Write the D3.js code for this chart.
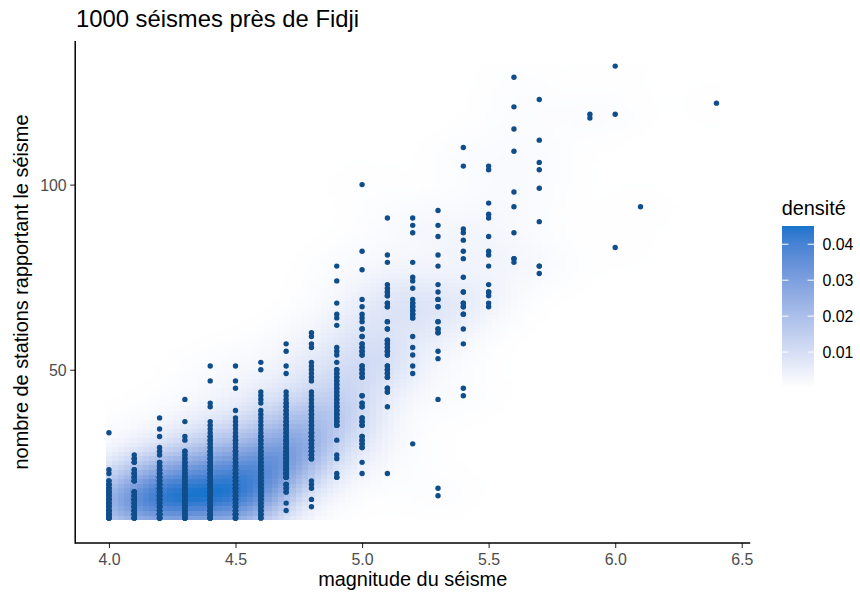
<!DOCTYPE html>
<html>
<head>
<meta charset="utf-8">
<script src="https://cdn.jsdelivr.net/npm/d3@7"></script>
<style>
  body { margin: 0; background: #ffffff; }
  svg { display: block; }
  text { font-family: "Liberation Sans", Arial, Helvetica, sans-serif; }
</style>
</head>
<body>
<svg id="chart" width="860" height="594"></svg>
<script>
// Magnitudes present in the catalogue
const magnitudes = [4.0, 4.1, 4.2, 4.3, 4.4, 4.5, 4.6, 4.7, 4.8, 4.9, 5.0,
                    5.1, 5.2, 5.3, 5.4, 5.5, 5.6, 5.7, 5.9, 6.0, 6.1, 6.4];

// Distinct numbers of reporting stations observed for each magnitude
const stationsByMag = [
  [10,11,12,13,14,15,16,17,18,19,20,22,23,33],
  [10,11,12,13,14,15,16,17,20,21,22,23,25,26,27],
  [10,11,12,13,14,15,16,17,18,19,20,21,22,23,24,25,27,28,29,32,34,37],
  [10,11,12,13,14,15,16,17,18,19,20,21,22,23,24,25,26,27,28,31,32,36,42],
  [10,11,12,13,14,15,16,17,18,19,20,21,22,23,24,25,26,27,28,29,30,31,32,33,34,35,36,40,41,47,51],
  [10,11,12,13,14,15,16,17,18,19,20,21,22,23,24,25,26,27,28,29,30,31,32,33,34,35,36,37,39,45,47,51],
  [10,11,12,13,14,15,16,17,18,19,20,21,22,23,24,25,26,27,28,29,30,31,32,33,34,35,36,37,38,39,41,42,43,44,50,52],
  [12,14,17,18,19,21,22,23,24,25,26,27,28,29,30,31,32,33,34,35,36,37,38,39,40,41,42,43,44,49,51,55,57],
  [13,15,18,19,20,26,27,28,29,30,31,32,33,34,35,36,37,38,39,40,41,42,43,44,47,48,49,50,51,52,56,57,59,60],
  [21,22,26,27,31,35,36,37,38,39,40,41,42,43,44,45,46,47,48,49,50,52,54,55,56,62,64,65,68,74,78],
  [22,25,29,30,31,32,35,36,37,40,41,43,48,49,50,51,54,55,56,57,59,61,63,64,65,67,69,77,82,100],
  [22,40,44,45,48,49,50,51,54,55,56,57,58,61,63,67,68,70,71,72,73,79,81,91],
  [30,49,51,54,56,59,64,65,66,67,68,69,72,74,75,79,87,89,91],
  [16,18,42,53,55,60,61,63,67,69,71,73,78,81,86,89,93],
  [43,45,57,61,65,67,68,71,75,80,82,85,87,88,105,110],
  [67,68,70,71,73,78,81,82,86,91,92,95,104,105],
  [79,80,87,94,98,109,115,121,129],
  [76,78,90,99,104,106,112,123],
  [118,119],
  [83,119,132],
  [94],
  [122]
];

// Estimated number of earthquakes behind each (magnitude, stations) value
// (overlapping points); 1000 earthquakes in total
const countsByMag = [
  [5,5,5,4,4,4,4,4,3,3,2,1,1,1],
  [5,5,5,5,5,5,4,4,4,3,3,2,2,2,1],
  [7,7,7,6,6,6,6,6,5,5,5,5,4,4,3,2,1,1,1,1,1,1],
  [6,6,6,6,5,5,5,5,5,5,4,4,4,3,3,3,2,2,2,1,1,1,1],
  [6,6,6,5,5,5,5,5,5,5,4,4,4,4,4,3,3,3,3,2,2,2,2,1,1,1,1,1,1,1,1],
  [6,6,6,6,5,5,5,5,5,5,5,5,5,5,4,3,3,3,3,2,2,2,2,1,1,1,1,1,1,1,1,1],
  [3,3,4,4,4,4,6,6,6,5,5,5,4,4,4,4,3,3,3,2,2,2,2,1,1,1,1,1,1,1,1,1,1,1,1,1],
  [1,1,2,2,3,5,5,6,6,6,6,6,5,4,4,4,3,3,3,3,3,2,2,2,2,2,1,1,1,1,1,1,1],
  [1,1,1,1,1,4,4,4,4,4,4,4,4,2,2,2,2,2,2,2,1,1,1,1,1,1,1,1,1,1,1,1,1,1],
  [2,1,1,1,1,3,3,3,3,3,3,2,2,2,2,2,2,2,2,2,2,1,1,1,1,1,1,1,1,1,1],
  [1,1,2,2,2,2,2,2,2,2,2,2,2,2,2,2,2,2,2,2,2,2,1,1,1,1,1,1,1,1],
  [1,1,2,2,2,2,2,2,2,2,2,2,2,2,2,2,2,2,2,1,1,1,1,1],
  [1,1,1,1,1,1,2,2,2,2,2,1,1,1,1,1,1,1,1],
  [1,1,1,1,1,2,2,2,2,2,1,1,1,1,1,1,1],
  [1,1,1,1,2,2,2,2,1,1,1,1,1,1,1,1],
  [1,1,1,2,1,1,1,1,1,1,1,1,1,1],
  [1,2,1,1,1,1,1,1,1],
  [1,2,1,1,1,1,1,1],
  [1,1],
  [1,1,1],
  [1],
  [1]
];

const xTicks = [4.0, 4.5, 5.0, 5.5, 6.0, 6.5];
const yTicks = [50, 100];
const densityTicks = [0.01, 0.02, 0.03, 0.04];

// One record per earthquake
const quakes = [];
magnitudes.forEach((m, i) => {
  stationsByMag[i].forEach((s, j) => {
    for (let r = 0; r < countsByMag[i][j]; r++) quakes.push({ mag: m, stations: s });
  });
});

// Normal-reference bandwidth (as MASS::bandwidth.nrd)
function bandwidthNrd(v) {
  const sorted = v.slice().sort((a, b) => a - b);
  const iqr = d3.quantileSorted(sorted, 0.75) - d3.quantileSorted(sorted, 0.25);
  const h = iqr / 1.34;
  return 4 * 1.06 * Math.min(Math.sqrt(d3.variance(v)), h) * Math.pow(v.length, -1 / 5);
}

// Two-dimensional kernel density on a 100 x 100 grid (as MASS::kde2d)
const N = 100;
const xs = quakes.map(d => d.mag), ys = quakes.map(d => d.stations);
const hx = bandwidthNrd(xs) / 4, hy = bandwidthNrd(ys) / 4;
const [x0, x1] = d3.extent(xs), [y0, y1] = d3.extent(ys);
const gx = d3.range(N).map(i => x0 + (x1 - x0) * i / (N - 1));
const gy = d3.range(N).map(j => y0 + (y1 - y0) * j / (N - 1));
const dnorm = t => Math.exp(-0.5 * t * t) / Math.sqrt(2 * Math.PI);
const A = gx.map(g => xs.map(v => dnorm((g - v) / hx)));
const B = gy.map(g => ys.map(v => dnorm((g - v) / hy)));
const nq = quakes.length;
const cells = [];
for (let i = 0; i < N; i++) {
  for (let j = 0; j < N; j++) {
    let s = 0;
    const a = A[i], b = B[j];
    for (let k = 0; k < nq; k++) s += a[k] * b[k];
    cells.push({ mag: gx[i], stations: gy[j], density: s / (nq * hx * hy) });
  }
}
const cw = (x1 - x0) / (N - 1), ch = (y1 - y0) / (N - 1);

// Layout
const W = 860, H = 594;
const panel = { left: 75.2, top: 41, width: 675, height: 502 };

// Scales trained on the raster tile extents, expanded by 5 %
const xr = [x0 - cw / 2, x1 + cw / 2], yr = [y0 - ch / 2, y1 + ch / 2];
const xPad = (xr[1] - xr[0]) * 0.05, yPad = (yr[1] - yr[0]) * 0.05;
const x = d3.scaleLinear().domain([xr[0] - xPad, xr[1] + xPad])
  .range([panel.left, panel.left + panel.width]);
const y = d3.scaleLinear().domain([yr[0] - yPad, yr[1] + yPad])
  .range([panel.top + panel.height, panel.top]);

const dExtent = d3.extent(cells, d => d.density);
const fillColor = d3.scaleLinear().domain(dExtent)
  .range(["#ffffff", "#1874CD"]).interpolate(d3.interpolateLab);

const svg = d3.select("#chart");
svg.append("rect").attr("width", W).attr("height", H).attr("fill", "#ffffff");

// Density raster
svg.append("g").attr("shape-rendering", "crispEdges")
  .selectAll("rect").data(cells).join("rect")
  .attr("x", d => x(d.mag - cw / 2))
  .attr("y", d => y(d.stations + ch / 2))
  .attr("width", d => x(d.mag + cw / 2) - x(d.mag - cw / 2))
  .attr("height", d => y(d.stations - ch / 2) - y(d.stations + ch / 2))
  .attr("fill", d => fillColor(d.density));

// Earthquakes
svg.append("g").selectAll("circle").data(quakes).join("circle")
  .attr("cx", d => x(d.mag))
  .attr("cy", d => y(d.stations))
  .attr("r", 2.7)
  .attr("fill", "#104E8B");

// Axes
const xAxis = d3.axisBottom(x).tickValues(xTicks).tickFormat(d3.format(".1f"))
  .tickSize(5).tickPadding(4);
const yAxis = d3.axisLeft(y).tickValues(yTicks).tickSize(5).tickPadding(4);

const gX = svg.append("g").attr("transform", `translate(0,${panel.top + panel.height})`).call(xAxis);
const gY = svg.append("g").attr("transform", `translate(${panel.left},0)`).call(yAxis);
[gX, gY].forEach(g => {
  g.select(".domain").remove();
  g.selectAll(".tick line").attr("stroke", "#333333").attr("stroke-width", 1.1);
  g.selectAll(".tick text").attr("fill", "#4D4D4D").attr("font-size", "15.9px")
    .attr("font-family", '"Liberation Sans", Arial, sans-serif');
});
gX.selectAll(".tick text").attr("dy", null).attr("y", 21.5);
gY.selectAll(".tick text").attr("x", -8.5).attr("dy", "0.36em");

// Axis lines
svg.append("line")
  .attr("x1", panel.left).attr("x2", panel.left + panel.width)
  .attr("y1", panel.top + panel.height).attr("y2", panel.top + panel.height)
  .attr("stroke", "#000").attr("stroke-width", 1.5);
svg.append("line")
  .attr("x1", panel.left).attr("x2", panel.left)
  .attr("y1", panel.top).attr("y2", panel.top + panel.height + 0.75)
  .attr("stroke", "#000").attr("stroke-width", 1.5);

// Titles
svg.append("text").attr("x", 76).attr("y", 26.7)
  .attr("font-size", "23.8px").attr("fill", "#000")
  .text("1000 séismes près de Fidji");
svg.append("text").attr("x", panel.left + panel.width / 2).attr("y", 586)
  .attr("text-anchor", "middle").attr("font-size", "19.9px").attr("fill", "#000")
  .text("magnitude du séisme");
svg.append("text")
  .attr("transform", `translate(27.5,${panel.top + panel.height / 2}) rotate(-90)`)
  .attr("text-anchor", "middle").attr("font-size", "19.9px").attr("fill", "#000")
  .text("nombre de stations rapportant le séisme");

// Colour bar legend
const bar = { x: 782, y: 226, w: 32, h: 162 };
const ly = d3.scaleLinear().domain(dExtent).range([bar.y + bar.h, bar.y]);
const grad = svg.append("defs").append("linearGradient")
  .attr("id", "densGrad").attr("x1", 0).attr("y1", 1).attr("x2", 0).attr("y2", 0);
d3.range(0, 1.0001, 0.05).forEach(t => {
  grad.append("stop").attr("offset", t)
    .attr("stop-color", fillColor(dExtent[0] + t * (dExtent[1] - dExtent[0])));
});
svg.append("text").attr("x", 781.7).attr("y", 215)
  .attr("font-size", "19.9px").attr("fill", "#000").text("densité");
svg.append("rect").attr("x", bar.x).attr("y", bar.y)
  .attr("width", bar.w).attr("height", bar.h).attr("fill", "url(#densGrad)");
const lt = svg.append("g");
densityTicks.filter(v => v >= dExtent[0] && v <= dExtent[1]).forEach(v => {
  const ty = ly(v);
  lt.append("line").attr("x1", bar.x).attr("x2", bar.x + bar.w / 5)
    .attr("y1", ty).attr("y2", ty).attr("stroke", "#ffffff").attr("stroke-width", 1);
  lt.append("line").attr("x1", bar.x + bar.w * 4 / 5).attr("x2", bar.x + bar.w)
    .attr("y1", ty).attr("y2", ty).attr("stroke", "#ffffff").attr("stroke-width", 1);
  lt.append("text").attr("x", bar.x + bar.w + 8.5).attr("y", ty).attr("dy", "0.36em")
    .attr("font-size", "15.9px").attr("fill", "#000").text(d3.format(".2f")(v));
});
</script>
</body>
</html>
